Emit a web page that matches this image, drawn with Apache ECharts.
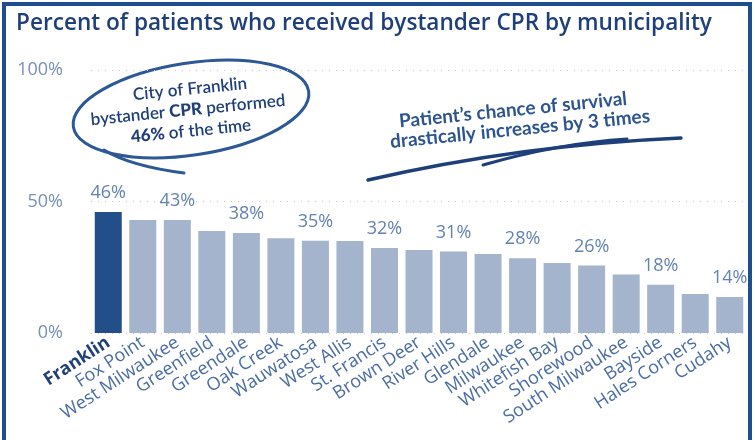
<!DOCTYPE html>
<html>
<head>
<meta charset="utf-8">
<script src="https://cdn.jsdelivr.net/npm/echarts@6/dist/echarts.min.js"></script>
<style>
html,body{margin:0;padding:0;background:#fff;}
#chart{width:755px;height:440px;}
</style>
</head>
<body>
<div id="chart"></div>
<script>
const categories = ["Franklin","Fox Point","West Milwaukee","Greenfield","Greendale","Oak Creek","Wauwatosa","West Allis","St. Francis","Brown Deer","River Hills","Glendale","Milwaukee","Whitefish Bay","Shorewood","South Milwaukee","Bayside","Hales Corners","Cudahy"];
const values = [46,43,43,38.8,38,36,35.1,35,32.3,31.6,31,30,28.4,26.6,25.7,22.2,18.3,14.8,13.7];
const labeledCategories = ["Franklin","West Milwaukee","Greendale","Wauwatosa","St. Francis","River Hills","Milwaukee","Shorewood","Bayside","Cudahy"];
const yTicks = [0,50,100];
const highlight = "Franklin";

const NAVY = "#1f3f7a";
const chart = echarts.init(document.getElementById('chart'), null, {renderer:'canvas'});
const FONT = "Open Sans";

const barData = categories.map((c,i)=>({
  value: values[i],
  itemStyle: {color: c===highlight ? "#224f8a" : "#a4b4cc"},
  label: {show: labeledCategories.includes(c)}
}));

chart.setOption({
  animation:false,
  textStyle:{fontFamily:FONT},
  title:{
    text:"Percent of patients who received bystander CPR by municipality",
    left:11, top:7,
    textStyle:{fontFamily:FONT, fontSize:22.6, fontWeight:600, color:NAVY}
  },
  grid:{left:91, right:8, top:70, bottom:107, containLabel:false},
  xAxis:{
    type:'category', data:categories,
    axisLine:{show:false}, axisTick:{show:false},
    axisLabel:{
      interval:0, rotate:33, margin:8, fontSize:18, color:"#4a6da3", fontFamily:FONT,
      formatter:(v)=> v===highlight ? '{b|'+v+'}' : v,
      rich:{b:{fontWeight:'bold', color:NAVY, fontSize:18, fontFamily:FONT}}
    }
  },
  yAxis:{
    type:'value', min:0, max:100, interval:50,
    axisLine:{show:false}, axisTick:{show:false},
    axisLabel:{formatter:(v)=> yTicks.includes(v) ? v+'%' : '', fontSize:18, color:"#7890b6", margin:28, fontFamily:FONT},
    splitLine:{show:true, lineStyle:{type:[1,6], color:"#c8c8c8", width:1}}
  },
  series:[{
    type:'bar', data:barData, barWidth:27,
    label:{position:'top', distance:10, fontSize:18, color:"#6382b0", fontFamily:FONT,
      formatter:(p)=> Math.round(p.value)+'%'}
  }],
  graphic:[
    {type:'rect', shape:{x:4, y:4, width:746, height:450}, style:{fill:null, stroke:"#1f4e8c", lineWidth:4}, z:100},
    {type:'ellipse', x:191, y:109, rotation:0.15, shape:{cx:0, cy:0, rx:119, ry:46},
      style:{fill:null, stroke:"#2c5895", lineWidth:3}},
    {type:'bezierCurve', shape:{x1:104, y1:150, cpx1:130, cpy1:166, x2:184, y2:173},
      style:{fill:null, stroke:"#2c5895", lineWidth:3, lineCap:'round'}},
    {type:'text', x:190, y:89, rotation:0.1,
      style:{text:"City of Franklin", font:"600 17px Lato", fill:NAVY, align:'center', verticalAlign:'middle'}},
    {type:'text', x:188, y:110, rotation:0.1,
      style:{text:"bystander {b|CPR} performed", font:"600 17px Lato", fill:NAVY, align:'center', verticalAlign:'middle',
        rich:{b:{font:"900 17px Lato", fill:NAVY}}}},
    {type:'text', x:191, y:131, rotation:0.1,
      style:{text:"{b|46%} of the time", font:"600 17px Lato", fill:NAVY, align:'center', verticalAlign:'middle',
        rich:{b:{font:"900 17px Lato", fill:NAVY}}}},
    {type:'text', x:513, y:110, rotation:0.1,
      style:{text:"Patient\u2019s chance of survival", font:"bold 19px Lato", fill:"#2c5590", align:'center', verticalAlign:'middle'}},
    {type:'text', x:520, y:129, rotation:0.1,
      style:{text:"drastically increases by 3 times", font:"bold 19px Lato", fill:"#2c5590", align:'center', verticalAlign:'middle'}},
    {type:'bezierCurve', shape:{x1:368, y1:180, cpx1:520, cpy1:145, x2:681, y2:138},
      style:{fill:null, stroke:"#1f3f7a", lineWidth:3.5, lineCap:'round'}},
    {type:'bezierCurve', shape:{x1:483, y1:165, cpx1:560, cpy1:143, x2:627, y2:139},
      style:{fill:null, stroke:"#1f3f7a", lineWidth:3, lineCap:'round'}}
  ]
});
</script>
</body>
</html>
